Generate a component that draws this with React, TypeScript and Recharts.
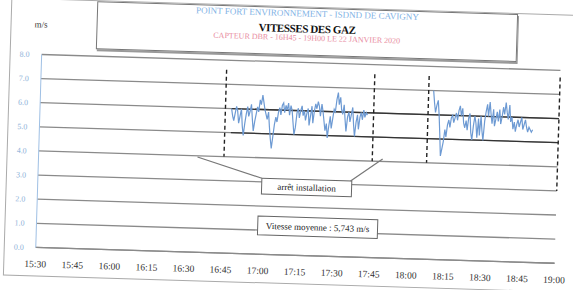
import { LineChart, Line, XAxis, YAxis, CartesianGrid, ReferenceLine, ReferenceArea } from 'recharts';

// gas velocity (m/s), one reading every 30 s
const seg1Start = 77.5; // minutes after 15:30
const seg1Vals = [
    6.0, 5.7, 5.5, 5.8, 6.1, 5.9, 5.4, 5.7, 6.0, 5.3,
    4.9, 5.4, 5.8, 6.1, 5.7, 5.9, 6.2, 5.6, 5.1, 5.5,
    5.8, 6.1, 5.9, 6.4, 6.2, 6.6, 6.3, 6.0, 5.8, 5.6,
    5.9, 5.3, 4.8, 4.4, 4.9, 5.4, 5.7, 5.5, 5.9, 6.1,
    5.8, 6.2, 6.3, 5.9, 6.2, 6.0, 6.3, 5.8, 6.2, 6.0,
    5.5, 5.0, 5.3, 5.9, 6.1, 5.7, 6.0, 6.2, 5.8, 6.0,
    5.6, 5.9, 6.1, 5.4, 5.8, 6.2, 5.5, 6.0, 6.3, 6.1,
    6.4, 6.2, 5.8, 6.3, 6.0, 5.6, 5.2, 5.5, 4.9, 5.4,
    5.8, 5.3, 5.7, 6.1, 6.0, 6.5, 6.8, 6.3, 6.6, 6.1,
    5.9, 6.3, 5.7, 5.2, 5.8, 6.0, 5.6, 5.9, 6.2, 5.5,
    5.0, 5.6, 5.9, 5.3, 5.8, 6.0, 5.7, 6.1, 5.8, 6.0, 5.9,
];
const seg2Start = 159;
const seg2Vals = [
    7.0, 6.5, 6.1, 6.4, 6.6, 6.0, 5.2, 4.3, 4.6, 4.9,
    5.4, 5.1, 5.6, 5.8, 5.5, 5.9, 6.0, 5.7, 5.9, 6.1,
    5.8, 6.2, 6.4, 6.0, 6.3, 5.7, 5.5, 5.8, 5.4, 5.9,
    6.1, 5.3, 5.0, 5.6, 6.0, 5.7, 5.1, 5.9, 5.2, 6.0,
    5.4, 5.0, 5.8, 6.2, 6.5, 6.0, 6.6, 6.1, 5.7, 6.3,
    5.6, 5.9, 6.2, 5.8, 6.3, 5.7, 6.0, 6.4, 6.1, 6.6,
    6.2, 5.9, 6.5, 5.8, 6.0, 5.5, 5.8, 5.4, 5.7, 5.9,
    5.6, 5.8, 6.0, 5.5, 5.7, 5.9, 5.6, 5.4, 5.6, 5.5,
    5.4, 5.5,
];
const stepMin = 0.5;

const xTicks = [0, 15, 30, 45, 60, 75, 90, 105, 120, 135, 150, 165, 180, 195, 210];
const xLabels = ['15:30', '15:45', '16:00', '16:15', '16:30', '16:45', '17:00', '17:15', '17:30', '17:45', '18:00', '18:15', '18:30', '18:45', '19:00'];
const yTicks = [0, 1, 2, 3, 4, 5, 6, 7, 8];

// dashed markers (minutes after 15:30)
const markers = [75, 135, 157];

const data = [
    ...seg1Vals.map((v, i) => ({ t: seg1Start + i * stepMin, v })),
    { t: 146, v: null },
    ...seg2Vals.map((v, i) => ({ t: seg2Start + i * stepMin, v })),
];

const serif = '"Liberation Serif", "Times New Roman", serif';

export default function App() {
    return (
        <div style={{ position: 'absolute', left: 0, top: 0, width: 573, height: 290, overflow: 'hidden', background: '#fff' }}>
            <div style={{ position: 'relative', width: 573, height: 290, transform: 'rotate(1.75deg)', transformOrigin: '50% 50%', fontFamily: serif }}>
                {/* outer frame */}
                <div style={{ position: 'absolute', left: 7, top: 6, width: 580, height: 276, border: '1px solid #aaa' }} />
                <div style={{ position: 'absolute', left: 31, top: 27, fontSize: 9, color: '#333' }}>m/s</div>
                <div style={{ position: 'absolute', left: 93, top: 7, width: 419, height: 46, border: '1px solid #777', boxShadow: '1px 2px 0 #999', background: '#fff' }}>
                    <div style={{ position: 'absolute', left: 0, right: 0, top: 0, textAlign: 'center', fontSize: 9, color: '#7fb2e5' }}>
                        POINT FORT ENVIRONNEMENT - ISDND DE CAVIGNY
                    </div>
                    <div style={{ position: 'absolute', left: 0, right: 0, top: 14, textAlign: 'center', fontSize: 11, fontWeight: 'bold', color: '#111', letterSpacing: -0.4 }}>
                        VITESSES DES GAZ
                    </div>
                    <div style={{ position: 'absolute', left: 0, right: 0, top: 25, textAlign: 'center', fontSize: 8, color: '#e88ca0' }}>
                        CAPTEUR DBR - 16H45 - 19H00 LE 22 JANVIER 2020
                    </div>
                </div>
                <div style={{ position: 'absolute', left: 0, top: 0 }}>
                    <LineChart width={573} height={290} data={data} margin={{ top: 62, right: 15, bottom: 0, left: 9 }} style={{ fontFamily: serif }}>
                        <CartesianGrid vertical={false} stroke="#8a8a8a" strokeWidth={1.3} />
                        <XAxis
                            dataKey="t"
                            type="number"
                            domain={[0, 210]}
                            ticks={xTicks}
                            tickFormatter={(v: number) => xLabels[xTicks.indexOf(v)]}
                            axisLine={{ stroke: '#8a8a8a', strokeWidth: 1.3 }}
                            tickLine={false}
                            tickSize={0}
                            tickMargin={13}
                            height={35}
                            interval={0}
                            tick={{ fontSize: 9.5, fill: '#333', fontFamily: serif }}
                        />
                        <YAxis
                            domain={[0, 8]}
                            ticks={yTicks}
                            tickFormatter={(v: number) => v.toFixed(1)}
                            axisLine={{ stroke: '#9fc0e4' }}
                            tickLine={false}
                            tickSize={0}
                            tickMargin={12}
                            width={30}
                            tick={{ fontSize: 8, fill: '#8fb3d9', fontFamily: serif }}
                        />
                        <ReferenceLine segment={[{ x: seg1Start, y: 6 }, { x: 210, y: 6 }]} stroke="#333" strokeWidth={1.3} />
                        <ReferenceLine segment={[{ x: seg1Start, y: 5 }, { x: 210, y: 5 }]} stroke="#333" strokeWidth={1.3} />
                        {markers.map((m) => (
                            <ReferenceLine key={m} segment={[{ x: m, y: 7.6 }, { x: m, y: 4 }]} stroke="#222" strokeWidth={1.4} strokeDasharray="4 3" />
                        ))}
                        <ReferenceLine segment={[{ x: 210, y: 7.7 }, { x: 210, y: 3 }]} stroke="#222" strokeWidth={1.4} strokeDasharray="4 3" />
                        <ReferenceLine segment={[{ x: 64.3, y: 3.95 }, { x: 90.6, y: 3.15 }]} stroke="#777" strokeWidth={1.2} />
                        <ReferenceLine segment={[{ x: 139.2, y: 4.1 }, { x: 126.5, y: 3.15 }]} stroke="#777" strokeWidth={1.2} />
                        <ReferenceArea
                            x1={90.6}
                            x2={127}
                            y1={2.5}
                            y2={3.15}
                            fill="#fff"
                            fillOpacity={1}
                            stroke="#666"
                            label={{ value: 'arrêt installation', position: 'center', fill: '#222', fontSize: 9, fontFamily: serif }}
                        />
                        <ReferenceArea
                            x1={89.5}
                            x2={138}
                            y1={0.8}
                            y2={1.58}
                            fill="#fff"
                            fillOpacity={1}
                            stroke="#666"
                            label={{ value: 'Vitesse moyenne : 5,743 m/s', position: 'center', fill: '#222', fontSize: 9, fontFamily: serif }}
                        />
                        <Line
                            type="linear"
                            dataKey="v"
                            stroke="#6d9ad3"
                            strokeWidth={1.2}
                            dot={false}
                            connectNulls={false}
                            isAnimationActive={false}
                        />
                    </LineChart>
                </div>
            </div>
        </div>
    );
}
